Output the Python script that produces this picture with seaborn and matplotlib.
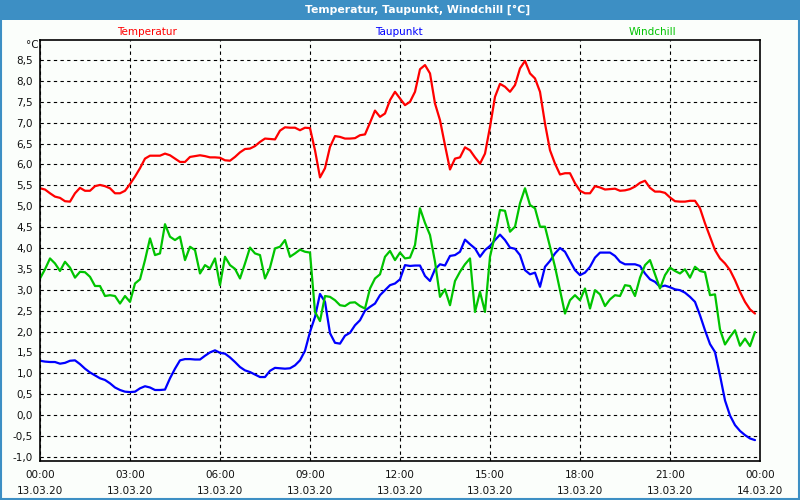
import pandas as pd
import numpy as np
import matplotlib
matplotlib.use("Agg")
import matplotlib.pyplot as plt
import matplotlib.dates as mdates
from matplotlib.patches import Rectangle
import seaborn as sns

# 10-minute readings, 13.03.20 00:00 .. 23:50
start = "2020-03-13 00:00"

temperatur = [
    5.43, 5.40, 5.31, 5.23, 5.20, 5.12, 5.11, 5.31, 5.44, 5.37,
    5.37, 5.48, 5.51, 5.48, 5.43, 5.31, 5.31, 5.37, 5.53, 5.71,
    5.91, 6.14, 6.21, 6.21, 6.21, 6.26, 6.22, 6.14, 6.06, 6.06,
    6.18, 6.20, 6.22, 6.20, 6.17, 6.17, 6.16, 6.10, 6.09, 6.18,
    6.29, 6.37, 6.38, 6.44, 6.54, 6.62, 6.61, 6.60, 6.81, 6.89,
    6.88, 6.88, 6.82, 6.88, 6.87, 6.34, 5.69, 5.91, 6.42, 6.68,
    6.66, 6.62, 6.62, 6.63, 6.70, 6.72, 7.00, 7.29, 7.14, 7.22,
    7.54, 7.74, 7.58, 7.42, 7.50, 7.74, 8.28, 8.38, 8.18, 7.46,
    7.06, 6.46, 5.88, 6.14, 6.17, 6.41, 6.34, 6.17, 6.02, 6.26,
    6.90, 7.62, 7.93, 7.86, 7.74, 7.90, 8.30, 8.48, 8.18, 8.06,
    7.74, 6.98, 6.34, 6.02, 5.76, 5.79, 5.79, 5.55, 5.37, 5.31,
    5.31, 5.48, 5.45, 5.40, 5.41, 5.42, 5.37, 5.38, 5.41, 5.47,
    5.56, 5.61, 5.44, 5.35, 5.35, 5.32, 5.21, 5.12, 5.11, 5.11,
    5.13, 5.13, 4.95, 4.59, 4.27, 3.95, 3.75, 3.63, 3.47, 3.23,
    2.95, 2.71, 2.53, 2.43,
]

taupunkt = [
    1.30, 1.28, 1.27, 1.27, 1.23, 1.25, 1.30, 1.31, 1.22, 1.11,
    1.02, 0.95, 0.88, 0.84, 0.76, 0.66, 0.60, 0.56, 0.55, 0.56,
    0.64, 0.69, 0.66, 0.60, 0.60, 0.61, 0.88, 1.11, 1.31, 1.34,
    1.34, 1.33, 1.33, 1.42, 1.50, 1.55, 1.49, 1.47, 1.38, 1.27,
    1.15, 1.07, 1.03, 0.97, 0.91, 0.91, 1.06, 1.13, 1.12, 1.11,
    1.12, 1.19, 1.31, 1.54, 1.99, 2.35, 2.90, 2.71, 1.96, 1.73,
    1.71, 1.90, 1.97, 2.15, 2.27, 2.50, 2.59, 2.67, 2.87, 2.99,
    3.11, 3.15, 3.25, 3.59, 3.57, 3.58, 3.58, 3.33, 3.21, 3.49,
    3.61, 3.58, 3.81, 3.83, 3.91, 4.20, 4.09, 3.99, 3.79, 3.95,
    4.05, 4.19, 4.32, 4.19, 4.01, 3.98, 3.83, 3.47, 3.37, 3.41,
    3.07, 3.55, 3.69, 3.87, 4.00, 3.91, 3.69, 3.47, 3.35, 3.41,
    3.55, 3.77, 3.89, 3.89, 3.89, 3.81, 3.67, 3.61, 3.61, 3.61,
    3.57, 3.39, 3.25, 3.19, 3.07, 3.10, 3.06, 3.01, 2.99, 2.93,
    2.83, 2.71, 2.39, 2.03, 1.70, 1.51, 0.95, 0.35, -0.01, -0.24,
    -0.38, -0.48, -0.56, -0.60,
]

windchill = [
    3.27, 3.49, 3.75, 3.63, 3.45, 3.67, 3.53, 3.29, 3.43, 3.42,
    3.31, 3.09, 3.09, 2.85, 2.87, 2.85, 2.67, 2.85, 2.71, 3.15,
    3.25, 3.71, 4.23, 3.83, 3.87, 4.57, 4.27, 4.19, 4.27, 3.71,
    4.03, 3.95, 3.39, 3.59, 3.51, 3.75, 3.11, 3.79, 3.59, 3.50,
    3.27, 3.63, 4.01, 3.87, 3.83, 3.27, 3.53, 3.99, 4.03, 4.19,
    3.79, 3.87, 3.96, 3.91, 3.89, 2.47, 2.25, 2.85, 2.83, 2.75,
    2.63, 2.61, 2.69, 2.70, 2.61, 2.55, 3.03, 3.27, 3.37, 3.79,
    3.93, 3.71, 3.89, 3.75, 3.77, 4.07, 4.95, 4.60, 4.31, 3.67,
    2.83, 3.01, 2.63, 3.21, 3.43, 3.61, 3.75, 2.47, 2.95, 2.47,
    3.79, 4.31, 4.91, 4.89, 4.39, 4.51, 5.07, 5.43, 5.03, 4.95,
    4.51, 4.51, 4.03, 3.55, 2.99, 2.43, 2.75, 2.87, 2.75, 3.03,
    2.55, 2.99, 2.89, 2.61, 2.77, 2.87, 2.85, 3.11, 3.09, 2.85,
    3.29, 3.59, 3.71, 3.37, 3.03, 3.35, 3.53, 3.45, 3.39, 3.49,
    3.29, 3.55, 3.45, 3.42, 2.87, 2.89, 2.05, 1.69, 1.87, 2.03,
    1.66, 1.83, 1.65, 1.99,
]

series_names = ["Temperatur", "Taupunkt", "Windchill"]
series_colors = ["#ff0000", "#0000ff", "#00c400"]
y_ticks = np.arange(-1.0, 8.51, 0.5)

times = pd.date_range(start, periods=len(temperatur), freq="10min")
df = pd.DataFrame({"Zeit": times, "Temperatur": temperatur,
                   "Taupunkt": taupunkt, "Windchill": windchill})
long_df = df.melt(id_vars="Zeit", var_name="Reihe", value_name="Wert")

sns.set_style("white")
plt.rcParams["font.family"] = ["DejaVu Sans"]

bg = "#fbfefb"
bar_blue = "#3d8fc4"

fig = plt.figure(figsize=(8, 5), dpi=100, facecolor=bg)
ax = fig.add_axes([0.05, 0.078, 0.90, 0.842])
ax.set_facecolor(bg)

sns.lineplot(data=long_df, x="Zeit", y="Wert", hue="Reihe",
             hue_order=series_names, palette=series_colors,
             linewidth=1.6, legend=False, ax=ax)

t0 = pd.Timestamp(start)
ax.set_xlim(t0, t0 + pd.Timedelta(hours=24))
ax.set_ylim(-1.1, 8.98)

ax.xaxis.set_major_locator(mdates.HourLocator(byhour=range(0, 24, 3)))
ax.xaxis.set_minor_locator(mdates.HourLocator())
ax.xaxis.set_major_formatter(mdates.DateFormatter("%H:%M\n%d.%m.%y"))
ax.set_yticks(y_ticks)
ax.set_yticklabels([f"{v:.1f}".replace(".", ",") for v in y_ticks])

ax.grid(True, axis="both", which="major", color="black",
        linestyle=(0, (3, 3)), linewidth=0.8)
ax.tick_params(axis="both", which="major", direction="out", length=3,
               width=0.8, color="black", labelsize=7.5, labelcolor="#111111",
               pad=2)
ax.tick_params(axis="x", which="minor", direction="out", length=3,
               width=0.8, color="black")
ax.tick_params(axis="x", which="major", pad=3.5)
plt.setp(ax.get_xticklabels(), linespacing=1.75)
for sp in ax.spines.values():
    sp.set_color("black")
    sp.set_linewidth(1.2)
ax.set_xlabel("")
ax.set_ylabel("")

# title bar and frame
fig.patches.append(Rectangle((0, 0.96), 1, 0.04, transform=fig.transFigure,
                             facecolor=bar_blue, edgecolor="none", zorder=0))
fig.patches.append(Rectangle((0.001, 0.002), 0.998, 0.996, transform=fig.transFigure,
                             facecolor="none", edgecolor=bar_blue, linewidth=1.5,
                             zorder=1))
fig.text(0.522, 0.980, "Temperatur, Taupunkt, Windchill [°C]", color="white",
         fontsize=7.8, fontweight="bold", ha="center", va="center")

# series labels above the plot
label_x = [0.184, 0.499, 0.815]
for name, color, lx in zip(series_names, series_colors, label_x):
    fig.text(lx, 0.936, name, color=color, fontsize=7.5, ha="center", va="center")
fig.text(0.040, 0.910, "°C", color="#111111", fontsize=7.5, ha="center", va="center")

fig.savefig("out.png", dpi=100, facecolor=bg)
